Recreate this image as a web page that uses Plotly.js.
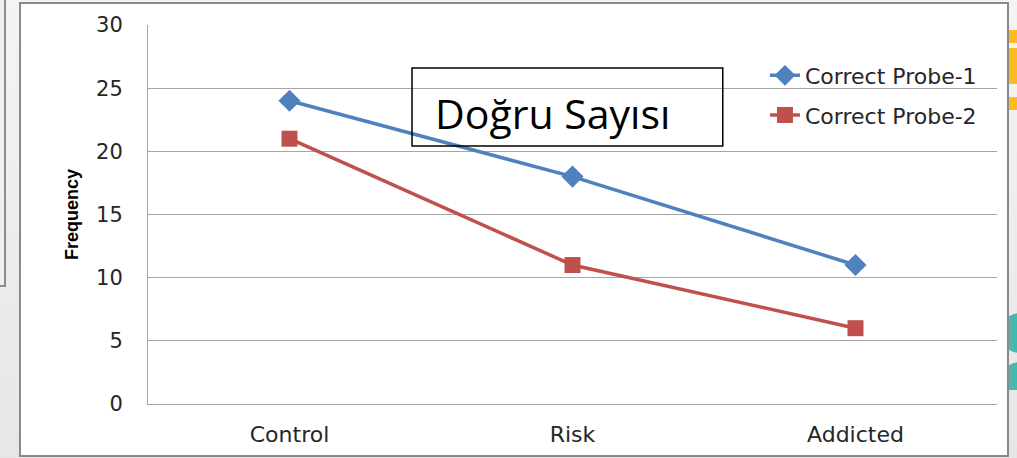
<!DOCTYPE html>
<html>
<head>
<meta charset="utf-8">
<script src="https://cdn.plot.ly/plotly-3.0.1.min.js"></script>
<style>
  html, body { margin: 0; padding: 0; width: 1017px; height: 458px; overflow: hidden; }
  body { background: linear-gradient(to bottom, #f4f4f4 0%, #e6e6e6 100%); position: relative; }
  .leftbox { position: absolute; left: -10px; top: -5px; width: 12px; height: 288px; border: 2px solid #8c8c8c; background: #f0f0f0; }
  .yel1 { position: absolute; left: 990px; top: 30px; width: 60px; height: 13px; background: #fbbd1e; border-radius: 8px 0 0 0; }
  .yel2 { position: absolute; left: 990px; top: 48px; width: 60px; height: 36px; background: #fbbd1e; }
  .yel3 { position: absolute; left: 990px; top: 97px; width: 60px; height: 13px; background: #fbbd1e; border-radius: 0 0 0 8px; }
  .teal1 { position: absolute; left: 1000px; top: 313px; width: 60px; height: 40px; background: #49b8ac; border-radius: 30px; }
  .teal2 { position: absolute; left: 1000px; top: 362px; width: 60px; height: 40px; background: #49b8ac; border-radius: 30px; clip-path: inset(0 0 12px 0); }
  .frame { position: absolute; left: 19px; top: 2px; width: 986px; height: 451px; border: 2px solid #8a8a8a; background: #ffffff; }
  #chart { position: absolute; left: 0; top: 0; width: 1017px; height: 458px; }
</style>
</head>
<body>
<div class="leftbox"></div>
<div class="yel1"></div><div class="yel2"></div><div class="yel3"></div>
<div class="teal1"></div><div class="teal2"></div>
<div class="frame"></div>
<div id="chart"></div>
<script>
const categories = ["Control", "Risk", "Addicted"];
const probe1 = [24, 18, 11];
const probe2 = [21, 11, 6];
const seriesNames = ["Correct Probe-1", "Correct Probe-2"];
const yTicks = [0, 5, 10, 15, 20, 25, 30];
const boxLabel = "Doğru Sayısı";
const yTitle = "Frequency";

const traces = [
  {
    x: categories, y: probe1, name: seriesNames[0], type: "scatter", mode: "lines+markers",
    line: { color: "#4f81bd", width: 3.5 },
    marker: { symbol: "diamond", size: 17, color: "#4f81bd" },
    legendgroup: "a"
  },
  {
    x: categories, y: probe2, name: seriesNames[1], type: "scatter", mode: "lines+markers",
    line: { color: "#c0504d", width: 3.5 },
    marker: { symbol: "square", size: 16, color: "#c0504d" },
    legendgroup: "b"
  }
];

const layout = {
  width: 1017, height: 458,
  margin: { l: 148, r: 20, t: 25, b: 54 },
  paper_bgcolor: "rgba(0,0,0,0)",
  plot_bgcolor: "rgba(0,0,0,0)",
  font: { family: "DejaVu Sans, sans-serif", color: "#262626" },
  xaxis: {
    type: "category", range: [-0.5, 2.5],
    showgrid: false, zeroline: false,
    showline: true, linecolor: "#a6a6a6", linewidth: 1,
    ticks: "", ticklabelstandoff: 11, tickfont: { size: 22, color: "#262626" }
  },
  yaxis: {
    range: [0, 30], tickvals: yTicks, ticktext: yTicks.map(String),
    showgrid: true, gridcolor: "#a6a6a6", gridwidth: 1,
    zeroline: false, showline: true, linecolor: "#a6a6a6", linewidth: 1,
    ticks: "", ticklen: 0, ticklabelstandoff: 20, tickfont: { size: 21, color: "#262626" },
    title: { text: yTitle, standoff: 12,
      font: { family: "Liberation Sans, sans-serif", size: 18, color: "#000", weight: "bold" } }
  },
  showlegend: true,
  legend: {
    x: 0.7267, y: 0.922, xanchor: "left", yanchor: "top",
    bgcolor: "rgba(0,0,0,0)", font: { size: 22, color: "#262626" },
    traceorder: "grouped", tracegroupgap: 8
  },
  shapes: [
    { type: "rect", xref: "paper", yref: "paper", x0: 0.311, x1: 0.677, y0: 0.681, y1: 0.8865,
      line: { color: "#000", width: 1.5 }, fillcolor: "rgba(255,255,255,0)" }
  ],
  annotations: [
    { xref: "paper", yref: "paper", x: 0.3357, y: 0.768, xanchor: "left", yanchor: "middle",
      text: boxLabel, showarrow: false,
      font: { family: "Open Sans, sans-serif", size: 41, color: "#000" } }
  ]
};

Plotly.newPlot("chart", traces, layout, { displayModeBar: false, staticPlot: true });
</script>
</body>
</html>
